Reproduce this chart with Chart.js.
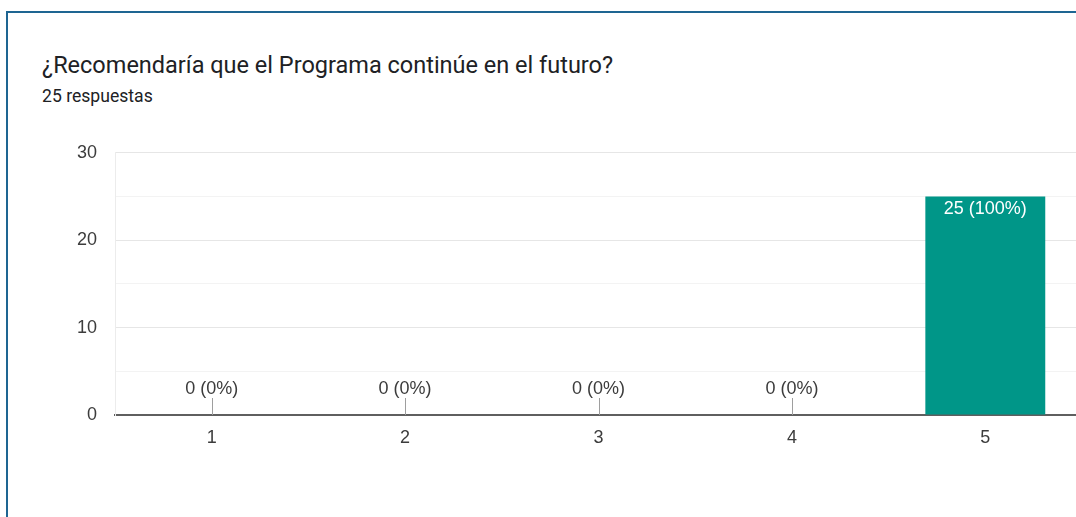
<!DOCTYPE html>
<html lang="es">
<head>
  <meta charset="UTF-8">
  <title>¿Recomendaría que el Programa continúe en el futuro?</title>
  <script src="https://cdn.jsdelivr.net/npm/chart.js"></script>
  <style>
    html, body { margin: 0; padding: 0; background: #fff; overflow: hidden; width: 1076px; height: 517px; }
    .frame {
      position: absolute; left: 6px; top: 11px; width: 1200px; height: 600px;
      border-left: 2px solid #1e6592; border-top: 2px solid #1e6592;
    }
    .title {
      position: absolute; left: 42px; top: 51px; margin: 0;
      font: 400 23.5px Roboto, sans-serif; color: #202124;
    }
    .subtitle {
      position: absolute; left: 42px; top: 86px; margin: 0;
      font: 400 17.6px Roboto, sans-serif; color: #202124;
    }
    .chart-box { position: absolute; left: 0; top: 124px; width: 1082px; height: 331px; }
  </style>
</head>
<body>
  <div class="frame"></div>
  <h2 class="title">¿Recomendaría que el Programa continúe en el futuro?</h2>
  <p class="subtitle">25 respuestas</p>
  <div class="chart-box"><canvas id="chart"></canvas></div>

  <script>
    // datos
    const categories = ['1', '2', '3', '4', '5'];
    const counts = [0, 0, 0, 0, 25];
    const totalAnswers = 25;
    const yTicks = [0, 10, 20, 30];

    const labelFont = '"Liberation Sans", Arial, sans-serif';

    // etiquetas "n (p%)" y la rayita de los valores cero
    const barLabels = {
      id: 'barLabels',
      afterDatasetsDraw(chart) {
        const ctx = chart.ctx;
        const meta = chart.getDatasetMeta(0);
        const yScale = chart.scales.y;
        ctx.save();
        ctx.font = '18px ' + labelFont;
        ctx.textAlign = 'center';
        ctx.textBaseline = 'middle';
        meta.data.forEach((bar, i) => {
          const v = counts[i];
          const text = v + ' (' + Math.round(v / totalAnswers * 100) + '%)';
          const base = yScale.getPixelForValue(0);
          if (v === 0) {
            ctx.strokeStyle = '#9e9e9e';
            ctx.lineWidth = 1;
            ctx.beginPath();
            ctx.moveTo(Math.round(bar.x) + 0.5, base);
            ctx.lineTo(Math.round(bar.x) + 0.5, base - 17);
            ctx.stroke();
            ctx.fillStyle = '#3c3c3c';
            ctx.fillText(text, bar.x, base - 26);
          } else {
            ctx.fillStyle = '#fff';
            ctx.fillText(text, bar.x, bar.y + 13);
          }
        });
        ctx.restore();
      }
    };

    new Chart(document.getElementById('chart'), {
      type: 'bar',
      data: {
        labels: categories,
        datasets: [{
          data: counts,
          backgroundColor: '#009688',
          borderWidth: 0,
          barPercentage: 0.62,
          categoryPercentage: 1
        }]
      },
      options: {
        responsive: true,
        maintainAspectRatio: false,
        animation: false,
        layout: { padding: { top: 11, right: 0, bottom: 0, left: 0 } },
        plugins: { legend: { display: false }, tooltip: { enabled: false } },
        scales: {
          x: {
            afterFit(scale) { scale.height = 40; },
            grid: { color: 'transparent', drawTicks: false },
            border: { display: true, color: '#5f5f5f', width: 2 },
            ticks: { color: '#3c3c3c', font: { family: labelFont, size: 18 }, padding: 12 }
          },
          y: {
            min: 0,
            max: 30,
            afterFit(scale) { scale.width = 115; },
            afterBuildTicks(scale) {
              scale.ticks = [0, 5, 10, 15, 20, 25, 30].map(v => ({ value: v }));
            },
            grid: {
              drawTicks: false,
              color(c) {
                const v = c.tick && c.tick.value;
                if (v === 0) return 'transparent';
                return yTicks.includes(v) ? '#e6e6e6' : '#f3f3f3';
              }
            },
            border: { display: true, color: '#ececec', width: 1 },
            ticks: {
              color: '#3c3c3c',
              font: { family: labelFont, size: 18 },
              padding: 18,
              callback: v => yTicks.includes(v) ? String(v) : ''
            }
          }
        }
      },
      plugins: [barLabels]
    });
  </script>
</body>
</html>
